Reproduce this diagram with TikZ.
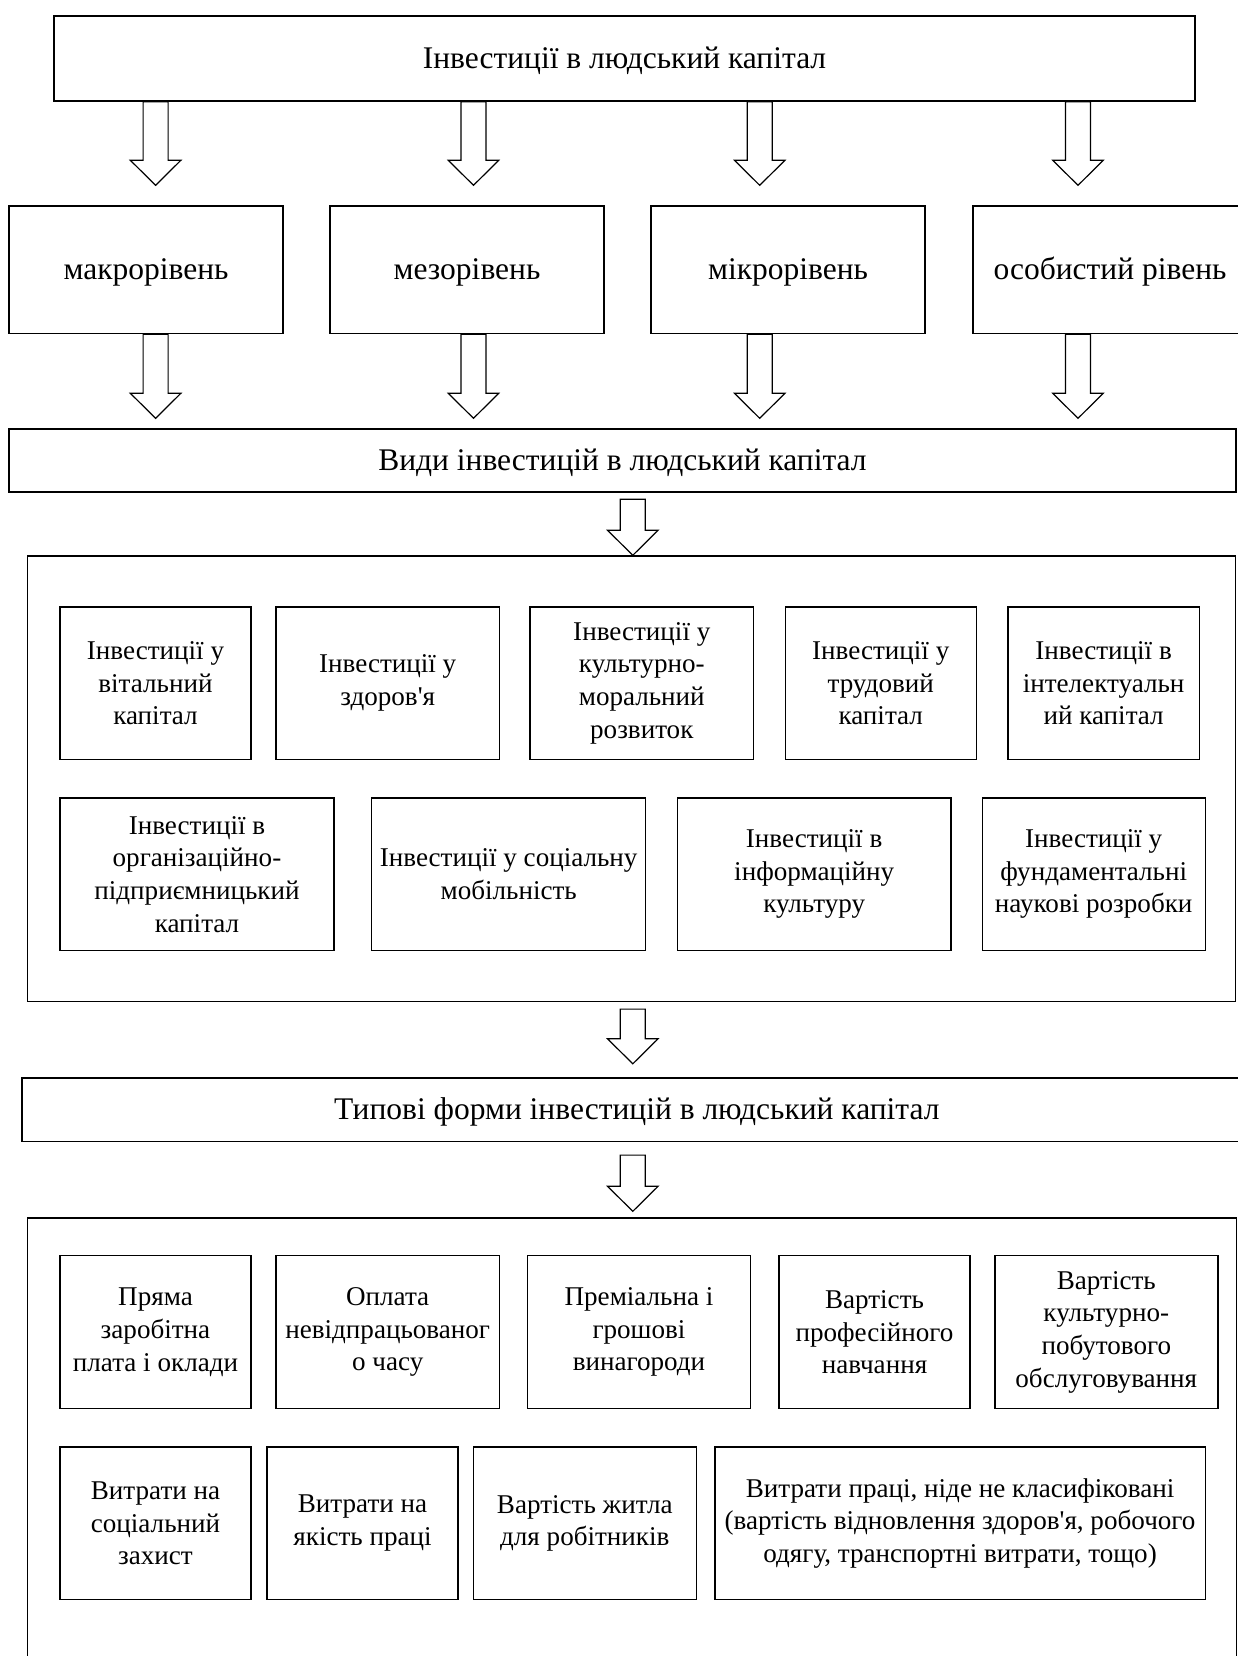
\documentclass[tikz,border=0pt]{standalone}
\usepackage{fontspec}
\setmainfont[Ligatures=TeXOff]{Liberation Serif}
\usetikzlibrary{calc}
\tikzset{
  bx/.style={draw, line width=1.4pt, fill=white, inner sep=0pt, align=center, anchor=center},
  small/.style={font=\fontsize{27.1}{32.6}\selectfont},
  big/.style={font=\fontsize{31.5}{36}\selectfont, text height=26.4pt, text depth=6.4pt},
  barr/.style={draw, line width=1.2pt, fill=white, line join=miter},
}
\newcommand\blockarrow[5]{%
  \path[barr] let \p1=(#1,0), \p2=(#2.south), \p3=(#3.north) in
   (\x1-12.5pt,\y2-#4pt) -- (\x1-12.5pt,\y3+#5pt+25pt) -- (\x1-25.25pt,\y3+#5pt+25pt)
   -- (\x1,\y3+#5pt) -- (\x1+25.25pt,\y3+#5pt+25pt) -- (\x1+12.5pt,\y3+#5pt+25pt)
   -- (\x1+12.5pt,\y2-#4pt) -- cycle;}
\begin{document}
\begin{tikzpicture}[x=1pt,y=-1pt]
\useasboundingbox (0,0) rectangle (1238,1656);
% top
\node[bx,big,minimum width=1141,minimum height=85] (top) at (624.5,58.5) {Інвестиції в людський капітал};
% levels
\node[bx,big,minimum width=274,minimum height=127.5] (l1) at (146,269.75) {макрорівень};
\node[bx,big,minimum width=274,minimum height=127.5] (l2) at (467,269.75) {мезорівень};
\node[bx,big,minimum width=274,minimum height=127.5] (l3) at (788,269.75) {мікрорівень};
\node[bx,big,minimum width=274,minimum height=127.5] (l4) at (1110,269.75) {особистий рівень};
% kinds
\node[bx,big,minimum width=1227,minimum height=63] (vydy) at (622.5,460.5) {Види інвестицій в людський капітал};
\node[bx,minimum width=1208,minimum height=445.4] (g1) at (631.6,778.7) {};
\node[bx,small,minimum width=191,minimum height=152.8] (a1) at (155.5,683.2) {Інвестиції у\\вітальний\\капітал};
\node[bx,small,minimum width=223.4,minimum height=152.8] (a2) at (387.7,683.2) {Інвестиції у\\здоров\textquotesingle я};
\node[bx,small,minimum width=223.6,minimum height=152.8] (a3) at (641.8,683.2) {Інвестиції у\\культурно-\\моральний\\розвиток};
\node[bx,small,minimum width=190.9,minimum height=152.8] (a4) at (880.75,683.2) {Інвестиції у\\трудовий\\капітал};
\node[bx,small,minimum width=191.4,minimum height=152.8] (a5) at (1103.6,683.2) {Інвестиції в\\інтелектуальн\\ий капітал};
\node[bx,small,minimum width=274,minimum height=152.8] (b1) at (197,874.3) {Інвестиції в\\організаційно-\\підприємницький\\капітал};
\node[bx,small,minimum width=274,minimum height=152.8] (b2) at (508.7,874.3) {Інвестиції у соціальну\\мобільність};
\node[bx,small,minimum width=273.7,minimum height=152.8] (b3) at (814.15,874.3) {Інвестиції в\\інформаційну\\культуру};
\node[bx,small,minimum width=223,minimum height=152.8] (b4) at (1093.7,874.3) {Інвестиції у\\фундаментальні\\наукові розробки};
% forms
\node[bx,big,minimum width=1230,minimum height=63.4] (typ) at (636.9,1109.7) {Типові форми інвестицій в людський капітал};
\node[bx,minimum width=1209,minimum height=462] (g2) at (632.1,1449) {};
\node[bx,small,minimum width=191,minimum height=152.9] (c1) at (155.5,1332.15) {Пряма\\заробітна\\плата і оклади};
\node[bx,small,minimum width=223.4,minimum height=152.9] (c2) at (387.7,1332.15) {Оплата\\невідпрацьованог\\о часу};
\node[bx,small,minimum width=223,minimum height=152.9] (c3) at (639,1332.15) {Преміальна і\\грошові\\винагороди};
\node[bx,small,minimum width=191,minimum height=152.9] (c4) at (874.5,1332.15) {Вартість\\професійного\\навчання};
\node[bx,small,minimum width=223,minimum height=152.9] (c5) at (1106.3,1332.15) {Вартість\\культурно-\\побутового\\обслуговування};
\node[bx,small,minimum width=191,minimum height=152.5] (d1) at (155.5,1523.25) {Витрати на\\соціальний\\захист};
\node[bx,small,minimum width=191,minimum height=152.5] (d2) at (362.5,1523.25) {Витрати на\\якість праці};
\node[bx,small,minimum width=223,minimum height=152.5] (d3) at (584.8,1523.25) {Вартість житла\\для робітників};
\node[bx,small,minimum width=490.3,minimum height=152.5] (d4) at (960.05,1523.25) {Витрати праці, ніде не класифіковані\\(вартість відновлення здоров\textquotesingle я, робочого\\одягу, транспортні витрати, тощо)};
% arrows
\blockarrow{155.6}{top}{l1}{0}{20}
\blockarrow{473.5}{top}{l2}{0}{20}
\blockarrow{759.7}{top}{l3}{0}{20}
\blockarrow{1078}{top}{l4}{0}{20}
\blockarrow{155.6}{l1}{vydy}{0}{10}
\blockarrow{473.5}{l2}{vydy}{0}{10}
\blockarrow{759.7}{l3}{vydy}{0}{10}
\blockarrow{1078}{l4}{vydy}{0}{10}
\blockarrow{632.8}{vydy}{g1}{6.6}{0}
\blockarrow{632.8}{g1}{typ}{7}{13.5}
\blockarrow{632.8}{typ}{g2}{13}{6}
\end{tikzpicture}
\end{document}
